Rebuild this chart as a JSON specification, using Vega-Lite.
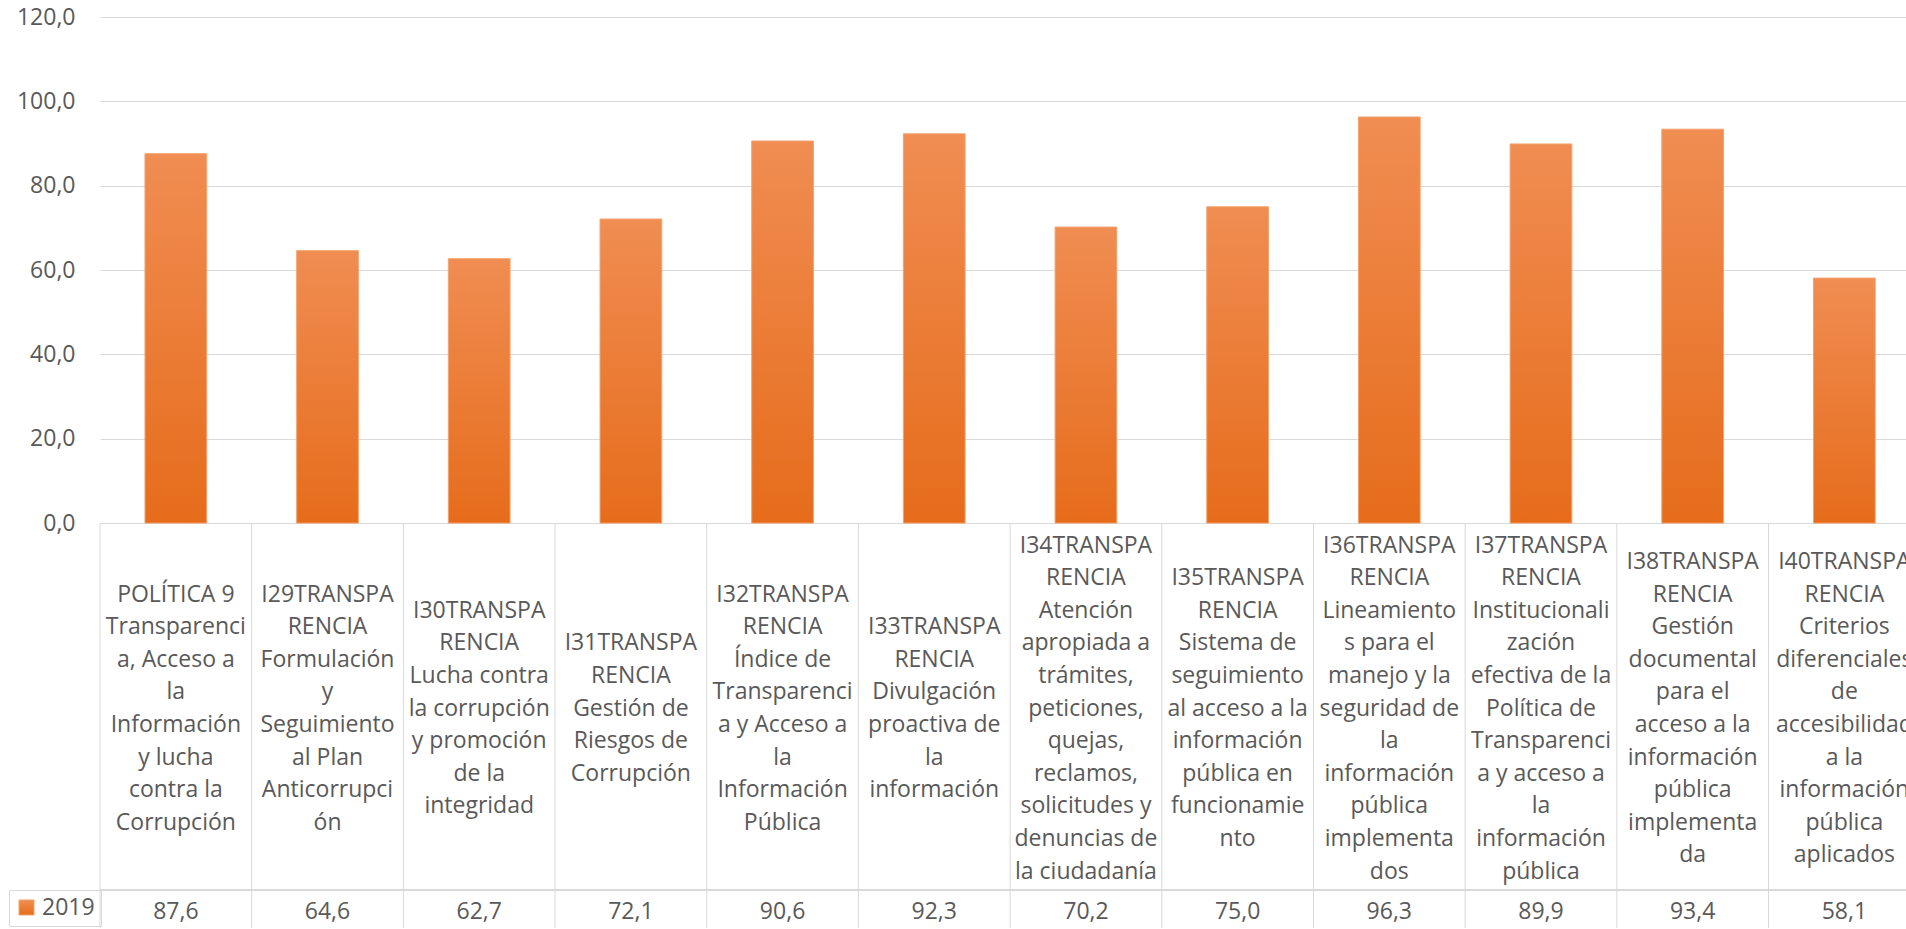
{
  "$schema": "https://vega.github.io/schema/vega-lite/v6.json",
  "autosize": {"type": "none"},
  "width": 1806,
  "height": 911,
  "padding": {"left": 100, "top": 17, "right": 0, "bottom": 1},
  "background": "white",
  "config": {
    "view": {"stroke": null},
    "font": "Open Sans",
    "locale": {"number": {"decimal": ",", "thousands": ".", "grouping": [3], "currency": ["", " €"]}}
  },
  "data": {
    "values": [
      {"categoria": "POLÍTICA 9\nTransparenci\na, Acceso a\nla\nInformación\ny lucha\ncontra la\nCorrupción", "serie": "2019", "valor": 87.6},
      {"categoria": "I29TRANSPA\nRENCIA\nFormulación\ny\nSeguimiento\nal Plan\nAnticorrupci\nón", "serie": "2019", "valor": 64.6},
      {"categoria": "I30TRANSPA\nRENCIA\nLucha contra\nla corrupción\ny promoción\nde la\nintegridad", "serie": "2019", "valor": 62.7},
      {"categoria": "I31TRANSPA\nRENCIA\nGestión de\nRiesgos de\nCorrupción", "serie": "2019", "valor": 72.1},
      {"categoria": "I32TRANSPA\nRENCIA\nÍndice de\nTransparenci\na y Acceso a\nla\nInformación\nPública", "serie": "2019", "valor": 90.6},
      {"categoria": "I33TRANSPA\nRENCIA\nDivulgación\nproactiva de\nla\ninformación", "serie": "2019", "valor": 92.3},
      {"categoria": "I34TRANSPA\nRENCIA\nAtención\napropiada a\ntrámites,\npeticiones,\nquejas,\nreclamos,\nsolicitudes y\ndenuncias de\nla ciudadanía", "serie": "2019", "valor": 70.2},
      {"categoria": "I35TRANSPA\nRENCIA\nSistema de\nseguimiento\nal acceso a la\ninformación\npública en\nfuncionamie\nnto", "serie": "2019", "valor": 75.0},
      {"categoria": "I36TRANSPA\nRENCIA\nLineamiento\ns para el\nmanejo y la\nseguridad de\nla\ninformación\npública\nimplementa\ndos", "serie": "2019", "valor": 96.3},
      {"categoria": "I37TRANSPA\nRENCIA\nInstitucionali\nzación\nefectiva de la\nPolítica de\nTransparenci\na y acceso a\nla\ninformación\npública", "serie": "2019", "valor": 89.9},
      {"categoria": "I38TRANSPA\nRENCIA\nGestión\ndocumental\npara el\nacceso a la\ninformación\npública\nimplementa\nda", "serie": "2019", "valor": 93.4},
      {"categoria": "I40TRANSPA\nRENCIA\nCriterios\ndiferenciales\nde\naccesibilidad\na la\ninformación\npública\naplicados", "serie": "2019", "valor": 58.1}
    ]
  },
  "layer": [
    {
      "mark": {
        "type": "bar",
        "width": {"band": 0.407},
        "fill": {
          "gradient": "linear",
          "x1": 0, "y1": 0, "x2": 0, "y2": 1,
          "stops": [
            {"offset": 0, "color": "#F08D52"},
            {"offset": 1, "color": "#E66C1B"}
          ]
        },
        "strokeWidth": 1
      },
      "encoding": {
        "x": {
          "field": "categoria", "type": "nominal", "sort": null, "axis": null,
          "scale": {"type": "band", "paddingInner": 0, "paddingOuter": 0, "range": [0, 1820.2]}
        },
        "y": {
          "field": "valor", "type": "quantitative",
          "scale": {"domain": [-96, 120], "nice": false, "zero": false},
          "axis": {
            "values": [0, 20, 40, 60, 80, 100, 120],
            "format": ".1f",
            "grid": true,
            "gridColor": "#d9d9d9",
            "gridWidth": 1,
            "domain": false,
            "ticks": false,
            "tickSize": 0,
            "labelPadding": 25,
            "labelFont": "Open Sans",
            "labelFontSize": 23,
            "labelColor": "#595959",
            "title": null
          }
        },
        "y2": {"datum": 0},
        "stroke": {
          "field": "serie", "type": "nominal",
          "scale": {"range": ["#F3A36E"]},
          "legend": {
            "title": null,
            "orient": "none",
            "legendX": -91,
            "legendY": 873,
            "symbolType": "square",
            "symbolSize": 225,
            "symbolStrokeWidth": 1,
            "symbolFillColor": "#EE7E35",
            "labelFont": "Open Sans",
            "labelFontSize": 23,
            "labelColor": "#595959",
            "labelOffset": 4,
            "padding": 6,
            "strokeColor": "#d9d9d9"
          }
        }
      }
    },
    {
      "mark": {"type": "rule", "color": "#d9d9d9", "strokeWidth": 1},
      "encoding": {
        "x": {"field": "categoria", "type": "nominal", "sort": null, "bandPosition": 0, "axis": null},
        "y": {"datum": 0, "axis": {"title": null}},
        "y2": {"datum": -96}
      }
    },
    {
      "mark": {"type": "rule", "color": "#d9d9d9", "strokeWidth": 1},
      "encoding": {
        "y": {"datum": -87, "axis": {"title": null}}
      }
    },
    {
      "mark": {
        "type": "text", "lineBreak": "\n", "lineHeight": 32.6,
        "font": "Open Sans", "fontSize": 23, "color": "#595959",
        "align": "center", "baseline": "middle",
        "dy": {"expr": "-(length(split(datum.categoria, '\\n')) - 1) * 16.3"}
      },
      "encoding": {
        "x": {"field": "categoria", "type": "nominal", "sort": null, "axis": null},
        "y": {"datum": -44, "axis": {"title": null}},
        "text": {"field": "categoria", "type": "nominal"}
      }
    },
    {
      "mark": {"type": "text", "font": "Open Sans", "fontSize": 23, "color": "#595959", "align": "center", "baseline": "middle"},
      "encoding": {
        "x": {"field": "categoria", "type": "nominal", "sort": null, "axis": null},
        "y": {"datum": -92.2, "axis": {"title": null}},
        "text": {"field": "valor", "type": "quantitative", "format": ".1f"}
      }
    }
  ]
}
